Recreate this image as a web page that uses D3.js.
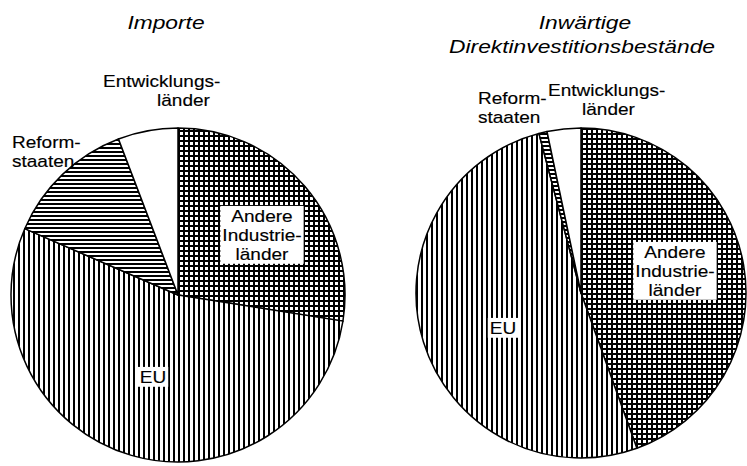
<!DOCTYPE html>
<meta charset="utf-8">
<style>

body { margin: 0; background: #fff; }

text {
  font-family: "Liberation Sans", Arial, sans-serif;
  fill: #000;
}

.title { font-style: italic; font-size: 19px; }
.label { font-size: 17px; stroke: #000; stroke-width: 0.15; }

.slice {
  stroke: #000;
  stroke-width: 1.5;
  stroke-linejoin: round;
}

</style>
<body>

<script src="https://cdn.jsdelivr.net/npm/d3@7"></script>

<script>

// shares in percent, clockwise from 12 o'clock
var categories = ["Andere Industrieländer", "EU", "Reformstaaten", "Entwicklungsländer"];
var importe = [27.5, 54.0, 12.7, 5.8];
var bestaende = [44.5, 51.4, 0.8, 3.3];

var fills = ["url(#grid)", "url(#vlines)", "url(#hlines)", "#fff"];

var width = 747,
  height = 466;

var svg = d3.select("body")
  .append("svg")
    .attr("width", width)
    .attr("height", height);

var defs = svg.append("defs");

// cross hatch
var grid = defs.append("pattern")
  .attr("id", "grid")
  .attr("patternUnits", "userSpaceOnUse")
  .attr("width", 5)
  .attr("height", 5);
grid.append("rect").attr("width", 5).attr("height", 5).attr("fill", "#000");
grid.append("rect").attr("x", 2).attr("y", 2).attr("width", 3).attr("height", 3).attr("fill", "#fff");

// vertical lines
var vlines = defs.append("pattern")
  .attr("id", "vlines")
  .attr("patternUnits", "userSpaceOnUse")
  .attr("width", 5)
  .attr("height", 5);
vlines.append("rect").attr("width", 5).attr("height", 5).attr("fill", "#fff");
vlines.append("rect").attr("width", 2).attr("height", 5).attr("fill", "#000");

// horizontal lines
var hlines = defs.append("pattern")
  .attr("id", "hlines")
  .attr("patternUnits", "userSpaceOnUse")
  .attr("width", 4)
  .attr("height", 4);
hlines.append("rect").attr("width", 4).attr("height", 4).attr("fill", "#fff");
hlines.append("rect").attr("width", 4).attr("height", 2).attr("fill", "#000");

var pie = d3.pie()
  .sort(null)
  .value(function(d) { return d; });

var charts = [
  {
    values: importe,
    cx: 178, cy: 295, r: 167,
    title: [{text: "Importe", x: 166, y: 29}],
    labels: [
      {lines: ["Andere", "Industrie-", "länder"], x: [262, 262, 262], y: 222, anchor: "middle", box: true},
      {lines: ["EU"], x: [153], y: 383, anchor: "middle", box: true},
      {lines: ["Reform-", "staaten"], x: [12, 12], y: 148, anchor: "start"},
      {lines: ["Entwicklungs-", "länder"], x: [103, 157], y: 87, anchor: "start"}
    ]
  },
  {
    values: bestaende,
    cx: 581, cy: 293, r: 165,
    title: [{text: "Inwärtige", x: 585, y: 29}, {text: "Direktinvestitionsbestände", x: 582, y: 53}],
    labels: [
      {lines: ["Andere", "Industrie-", "länder"], x: [675, 675, 675], y: 258, anchor: "middle", box: true},
      {lines: ["EU"], x: [503], y: 334, anchor: "middle", box: true},
      {lines: ["Reform-", "staaten"], x: [478, 478], y: 104, anchor: "start"},
      {lines: ["Entwicklungs-", "länder"], x: [548, 582], y: 96, anchor: "start"}
    ]
  }
];

var lineHeight = 19;

charts.forEach(function(c) {
  var arc = d3.arc().innerRadius(0).outerRadius(c.r);

  var g = svg.append("g")
    .attr("transform", "translate(" + c.cx + "," + c.cy + ")");

  g.selectAll("path")
    .data(pie(c.values))
    .enter().append("path")
      .attr("class", "slice")
      .attr("d", arc)
      .attr("fill", function(d, i) { return fills[i]; });

  svg.selectAll(null)
    .data(c.title)
    .enter().append("text")
      .attr("class", "title")
      .attr("text-anchor", "middle")
      .attr("transform", function(d) { return "translate(" + d.x + "," + d.y + ") scale(1.2,1)"; })
      .text(function(d) { return d.text; });

  c.labels.forEach(function(l) {
    var lg = svg.append("g");
    l.lines.forEach(function(t, k) {
      lg.append("text")
        .attr("class", "label")
        .attr("text-anchor", l.anchor)
        .attr("transform", "translate(" + l.x[k] + "," + (l.y + k * lineHeight) + ") scale(1.12,1)")
        .text(t);
    });
    if (l.box) {
      var bb = lg.node().getBBox();
      lg.insert("rect", "text")
        .attr("x", bb.x - 2)
        .attr("y", bb.y - 1)
        .attr("width", bb.width + 4)
        .attr("height", bb.height + 1)
        .attr("fill", "#fff");
    }
  });
});

</script>
</body>
